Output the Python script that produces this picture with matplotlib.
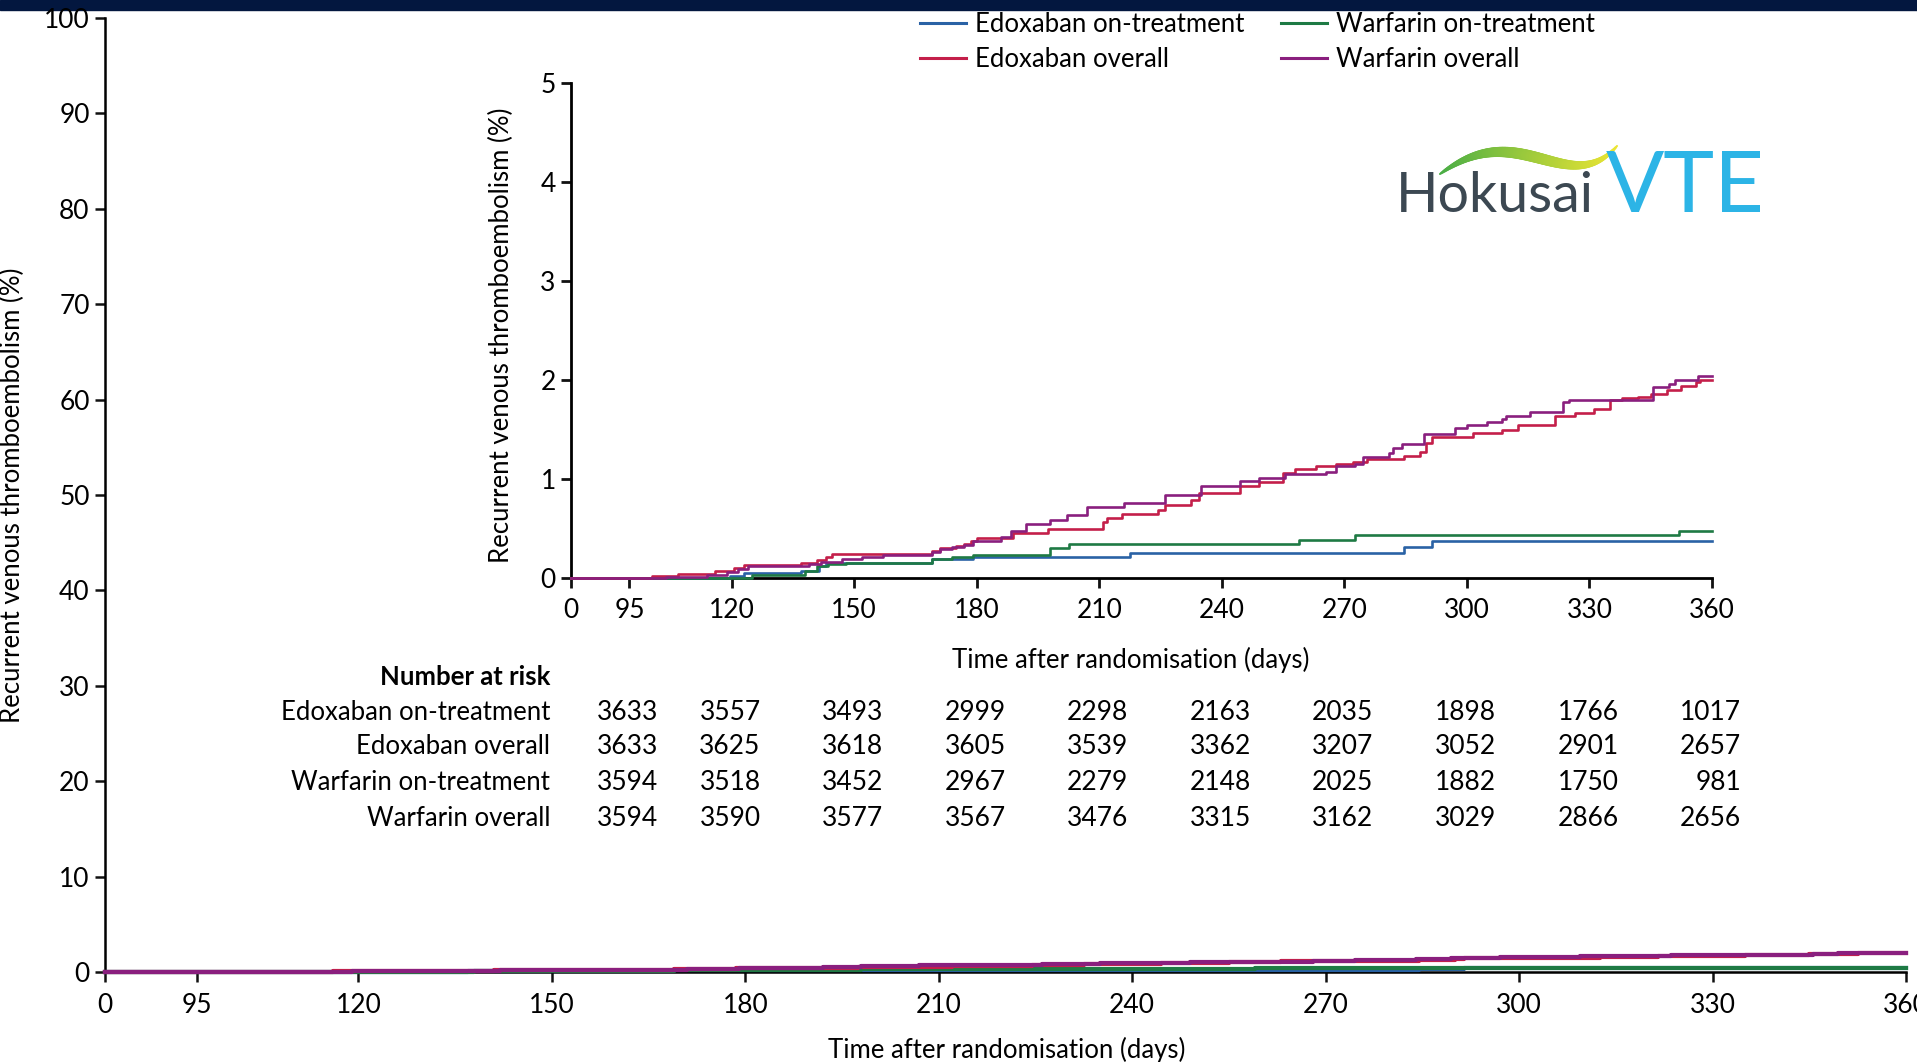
import numpy as np
import matplotlib
matplotlib.use("Agg")
from matplotlib import pyplot as plt
from matplotlib import transforms as mtrans
from matplotlib.collections import LineCollection
from matplotlib.patches import Rectangle

plt.rcParams['font.family'] = ['Lato', 'DejaVu Sans']
FS = 18.5

# cumulative recurrent VTE (%), step functions
edo_on_days = [0, 119.5, 123, 137, 141.5, 143, 169, 179, 217.5, 284.5, 291.5, 360]
edo_on_vals = [0, 0.02, 0.05, 0.075, 0.12, 0.15, 0.19, 0.215, 0.255, 0.315, 0.37, 0.37]

war_on_days = [0, 125, 138, 141, 143.5, 148, 169, 174, 179, 198, 202.5, 259, 272.5, 352, 360]
war_on_vals = [0, 0.03, 0.07, 0.12, 0.14, 0.155, 0.19, 0.21, 0.23, 0.30, 0.34, 0.38, 0.43, 0.47, 0.47]

edo_all_days = [0, 100.5, 107, 116, 120.5, 123, 137, 141, 143, 144.5, 169, 171, 175, 177,
                178.5, 180, 189, 197.5, 211, 212, 215.5, 224.5, 226, 232.5, 234.5, 244.5,
                249, 255, 258, 263, 268, 272, 275.5, 284.5, 288.5, 290, 291.5, 301.5, 308.5,
                312.5, 321.5, 326.5, 331, 335, 338, 342, 345, 349, 352.5, 356, 357, 360]
edo_all_vals = [0, 0.02, 0.04, 0.07, 0.10, 0.13, 0.15, 0.18, 0.21, 0.24, 0.27, 0.30, 0.32, 0.34,
                0.37, 0.40, 0.45, 0.50, 0.57, 0.61, 0.65, 0.69, 0.74, 0.79, 0.86, 0.93,
                0.97, 1.06, 1.10, 1.13, 1.15, 1.17, 1.20, 1.23, 1.27, 1.36, 1.42, 1.46, 1.49,
                1.55, 1.64, 1.67, 1.71, 1.80, 1.82, 1.83, 1.86, 1.90, 1.94, 1.98, 2.00, 2.00]

war_all_days = [0, 104, 114, 119, 121.5, 124, 139, 142, 147, 152, 157, 169, 171, 174, 177,
                179, 186, 188.5, 192, 198, 202, 207, 216, 226, 235, 244.5, 249, 255.5, 265.5,
                268, 272.5, 274.5, 281, 282, 284, 289.5, 297, 300, 305, 308.5, 309.5, 315.5,
                323.5, 325, 345.5, 349.5, 351, 356.5, 360]
war_all_vals = [0, 0.01, 0.03, 0.06, 0.09, 0.12, 0.14, 0.16, 0.19, 0.21, 0.23, 0.26, 0.29, 0.31, 0.33,
                0.37, 0.41, 0.47, 0.55, 0.59, 0.64, 0.72, 0.76, 0.84, 0.93, 0.98, 1.01, 1.05, 1.07,
                1.13, 1.15, 1.22, 1.26, 1.31, 1.35, 1.45, 1.52, 1.55, 1.58, 1.61, 1.64, 1.68,
                1.78, 1.80, 1.93, 1.96, 2.00, 2.04, 2.04]

series_names = ["Edoxaban on-treatment", "Edoxaban overall", "Warfarin on-treatment", "Warfarin overall"]
series_colors = ["#2a62a5", "#c41f4a", "#1e7a44", "#8a1f7e"]

# number at risk table
risk_days = [95, 120, 150, 180, 210, 240, 270, 300, 330, 360]
edo_on_risk = [3633, 3557, 3493, 2999, 2298, 2163, 2035, 1898, 1766, 1017]
edo_all_risk = [3633, 3625, 3618, 3605, 3539, 3362, 3207, 3052, 2901, 2657]
war_on_risk = [3594, 3518, 3452, 2967, 2279, 2148, 2025, 1882, 1750, 981]
war_all_risk = [3594, 3590, 3577, 3567, 3476, 3315, 3162, 3029, 2866, 2656]

x_ticks = [0, 95, 120, 150, 180, 210, 240, 270, 300, 330, 360]


# the first 95 days are squeezed on the time axis
def fwd(x):
    x = np.asarray(x, dtype=float)
    return np.where(x < 95, x * 14.3 / 95, x - 80.7)


def inv(t):
    t = np.asarray(t, dtype=float)
    return np.where(t < 14.3, t * 95 / 14.3, t + 80.7)


W, H = 1917, 1062
fig = plt.figure(figsize=(W / 100, H / 100), dpi=100)


def style_axes(ax, lw, xpad):
    ax.spines['top'].set_visible(False)
    ax.spines['right'].set_visible(False)
    for s in ('left', 'bottom'):
        ax.spines[s].set_linewidth(lw)
    ax.tick_params(width=lw, length=7, labelsize=FS + 0.5, direction='out', color='#111111')
    ax.tick_params(axis='y', pad=4)
    ax.tick_params(axis='x', pad=xpad)
    ax.set_xscale('function', functions=(fwd, inv))
    ax.set_xticks(x_ticks)
    ax.set_xticklabels([str(t) for t in x_ticks])
    ax.set_xlim(0, 360)


def draw_curves(ax, lw):
    curves = [(edo_on_days, edo_on_vals, series_colors[0]),
              (war_on_days, war_on_vals, series_colors[2]),
              (edo_all_days, edo_all_vals, series_colors[1]),
              (war_all_days, war_all_vals, series_colors[3])]
    for d, v, c in curves:
        ax.step(d, v, where='post', color=c, lw=lw, clip_on=False, zorder=3)


# main axes (0-100 %)
ax = fig.add_axes([105 / W, 1 - 972 / H, (1906 - 105) / W, (972 - 18) / H])
style_axes(ax, 1.8, 8)
ax.set_ylim(0, 100)
ax.set_yticks(range(0, 101, 10))
draw_curves(ax, 3.0)
ax.set_xlabel("Time after randomisation (days)", fontsize=FS)
ax.xaxis.set_label_coords((823 * 1.2226 - 105) / 1801, (972 - 1050) / 954)
ax.xaxis.label.set_va('center')
ax.set_ylabel("Recurrent venous thromboembolism (%)", fontsize=FS)
ax.yaxis.set_label_coords((12 - 105) / 1801, 0.5)
ax.yaxis.label.set_va('center')

# inset axes (0-5 %)
axin = fig.add_axes([571 / W, 1 - 578 / H, (1712 - 571) / W, (578 - 83) / H])
style_axes(axin, 2.0, 7.5)
axin.set_ylim(0, 5)
axin.set_yticks(range(0, 6))
draw_curves(axin, 1.9)
axin.set_xlabel("Time after randomisation (days)", fontsize=FS)
axin.xaxis.set_label_coords((1131 - 571) / 1141, (578 - 660) / 495)
axin.xaxis.label.set_va('center')
axin.set_ylabel("Recurrent venous thromboembolism (%)", fontsize=FS)
axin.yaxis.set_label_coords((501 - 571) / 1141, 0.49)
axin.yaxis.label.set_va('center')

# number at risk
tr = mtrans.blended_transform_factory(axin.transData, fig.transFigure)
tr_num = mtrans.offset_copy(tr, fig=fig, x=29, y=0, units='dots')
fig.text(550 / W, 1 - 677 / H, "Number at risk", fontsize=FS, fontweight='bold',
         ha='right', va='center')
row_y = [713, 747, 783, 818]
rows = [edo_on_risk, edo_all_risk, war_on_risk, war_all_risk]
for name, vals, yp in zip(series_names, rows, row_y):
    fig.text(550 / W, 1 - yp / H, name, fontsize=FS, ha='right', va='center')
    for d, n in zip(risk_days, vals):
        axin.text(d, 1 - yp / H, str(n), transform=tr_num, fontsize=FS + 0.5, ha='right', va='center')

# legend
handles = [plt.Line2D([], [], color=c, lw=2.2) for c in series_colors]
fig.legend(handles, series_names, ncol=2, loc='upper left', bbox_to_anchor=(920 / W, 1 - 12 / H),
           frameon=False, fontsize=FS, handlelength=1.8, handletextpad=0.35,
           columnspacing=1.4, labelspacing=0.38, borderpad=0, borderaxespad=0)

# top band
fig.add_artist(Rectangle((0, 1 - 10 / H), 1, 10 / H, transform=fig.transFigure,
                         color='#03173f', zorder=0))

# Hokusai VTE logo, drawn in a pixel-like box
axl = fig.add_axes([1390 / W, 1 - 230 / H, 380 / W, 100 / H])
axl.set_xlim(0, 380)
axl.set_ylim(100, 0)
axl.axis('off')
kx = np.array([50, 107, 160, 193, 227])
ky = np.array([44, 22, 31, 35, 16])
coef = np.polyfit(kx, ky, 4)
wx = np.linspace(50, 227, 120)
wy = np.polyval(coef, wx)
pts = np.array([wx, wy]).T.reshape(-1, 1, 2)
segs = np.concatenate([pts[:-1], pts[1:]], axis=1)
tt = np.linspace(0, 1, len(segs))
c0 = np.array(matplotlib.colors.to_rgb('#49ad45'))
c1 = np.array(matplotlib.colors.to_rgb('#ebe533'))
cols = [tuple(c0 + (c1 - c0) * t) for t in tt]
widths = 1.5 + 6.5 * np.sin(np.pi * tt) ** 0.8
axl.add_collection(LineCollection(segs, colors=cols, linewidths=widths, capstyle='round'))
axl.text(6, 82, "Hokusai", fontsize=40, color='#3c4852', va='baseline', ha='left')
axl.text(216, 82, "VTE", fontsize=62, color='#2cb4e6', va='baseline', ha='left')

fig.savefig("out.png", dpi=100)
